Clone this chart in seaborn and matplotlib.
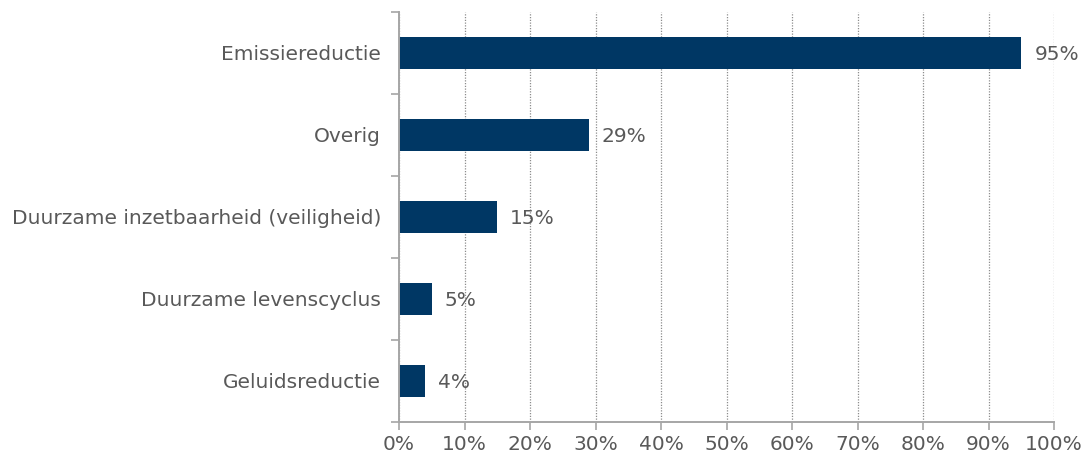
import matplotlib
matplotlib.use("Agg")
import matplotlib.pyplot as plt
import seaborn as sns
import pandas as pd
from matplotlib.ticker import FixedLocator, PercentFormatter

categories = ["Emissiereductie", "Overig", "Duurzame inzetbaarheid (veiligheid)",
              "Duurzame levenscyclus", "Geluidsreductie"]
values = [95, 29, 15, 5, 4]
x_ticks = list(range(0, 101, 10))

df = pd.DataFrame({"categorie": categories, "aandeel": values})

sns.set_theme(style="white")
plt.rcParams["font.family"] = ["DejaVu Sans"]

text_color = "#595959"
axis_color = "#a6a6a6"
bar_color = "#003764"
font_size = 14.5

fig = plt.figure(figsize=(10.88, 4.57), dpi=100)
ax = fig.add_axes([399 / 1088, 1 - 422 / 457, 655 / 1088, 410 / 457])

sns.barplot(data=df, x="aandeel", y="categorie", orient="h", color=bar_color,
            width=0.39, saturation=1, ax=ax, edgecolor="none")

ax.set_xlim(0, 100)
ax.set_ylim(len(categories) - 0.5, -0.5)
ax.set_xticks(x_ticks)
ax.xaxis.set_major_formatter(PercentFormatter(decimals=0))
ax.set_xlabel("")
ax.set_ylabel("")

# category tick marks sit between the bars
ax.yaxis.set_minor_locator(FixedLocator([i - 0.5 for i in range(len(categories) + 1)]))
ax.tick_params(axis="y", which="major", length=0, pad=13, labelsize=font_size, labelcolor=text_color)
ax.tick_params(axis="y", which="minor", length=6, width=1.2, color=axis_color, left=True)
ax.tick_params(axis="x", which="major", length=6, width=1.2, color=axis_color, bottom=True,
               labelsize=font_size, labelcolor=text_color, pad=3)

ax.grid(axis="x", which="major", color="#8c8c8c", linestyle=(0, (1, 1.2)), linewidth=0.9)
ax.grid(axis="y", visible=False)
ax.set_axisbelow(True)

for side in ["top", "right"]:
    ax.spines[side].set_visible(False)
for side in ["left", "bottom"]:
    ax.spines[side].set_color(axis_color)
    ax.spines[side].set_linewidth(1.4)

for i, v in enumerate(values):
    ax.annotate(f"{v}%", xy=(v, i), xytext=(13, -1), textcoords="offset pixels",
                va="center", ha="left", fontsize=font_size, color=text_color,
                annotation_clip=False)

fig.savefig("out.png", dpi=100)
